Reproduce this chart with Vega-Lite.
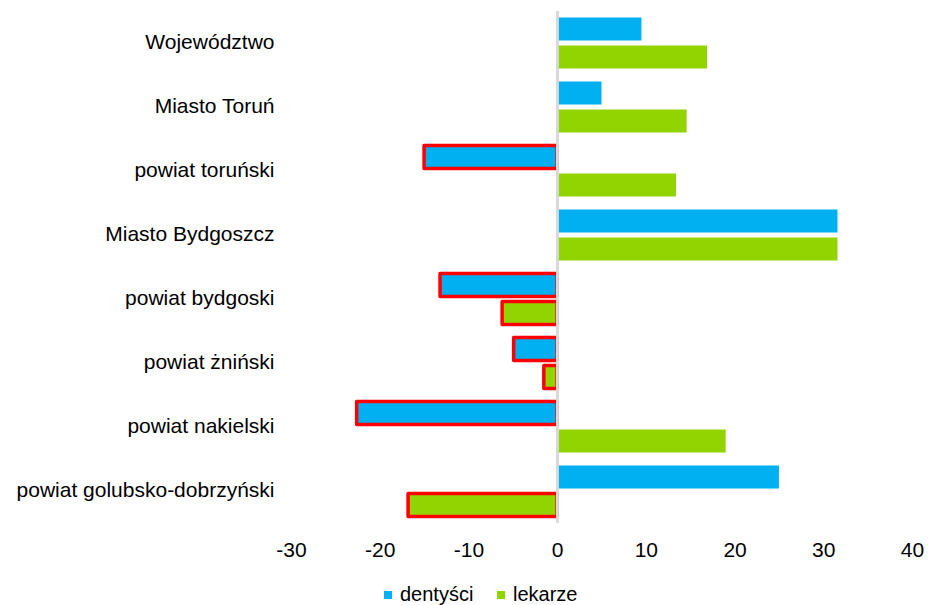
{
  "$schema": "https://vega.github.io/schema/vega-lite/v6.json",
  "autosize": "none",
  "width": 621,
  "height": 512,
  "padding": {"left": 291, "top": 11, "right": 16, "bottom": 82},
  "background": "white",
  "config": {
    "view": {"stroke": null},
    "font": "Liberation Sans",
    "axis": {"labelFont": "Liberation Sans", "labelFontSize": 21, "labelColor": "#000000", "labelLimit": 400},
    "legend": {"labelFont": "Liberation Sans", "labelFontSize": 20, "labelColor": "#000000", "padding": 0}
  },
  "data": {
    "values": [
      {"kategoria": "Województwo", "grupa": "dentyści", "wartosc": 9.5},
      {"kategoria": "Województwo", "grupa": "lekarze", "wartosc": 16.9},
      {"kategoria": "Miasto Toruń", "grupa": "dentyści", "wartosc": 5.0},
      {"kategoria": "Miasto Toruń", "grupa": "lekarze", "wartosc": 14.6},
      {"kategoria": "powiat toruński", "grupa": "dentyści", "wartosc": -15.0},
      {"kategoria": "powiat toruński", "grupa": "lekarze", "wartosc": 13.4},
      {"kategoria": "Miasto Bydgoszcz", "grupa": "dentyści", "wartosc": 31.6},
      {"kategoria": "Miasto Bydgoszcz", "grupa": "lekarze", "wartosc": 31.6},
      {"kategoria": "powiat bydgoski", "grupa": "dentyści", "wartosc": -13.2},
      {"kategoria": "powiat bydgoski", "grupa": "lekarze", "wartosc": -6.2},
      {"kategoria": "powiat żniński", "grupa": "dentyści", "wartosc": -4.9},
      {"kategoria": "powiat żniński", "grupa": "lekarze", "wartosc": -1.5},
      {"kategoria": "powiat nakielski", "grupa": "dentyści", "wartosc": -22.6},
      {"kategoria": "powiat nakielski", "grupa": "lekarze", "wartosc": 19.0},
      {"kategoria": "powiat golubsko-dobrzyński", "grupa": "dentyści", "wartosc": 25.0},
      {"kategoria": "powiat golubsko-dobrzyński", "grupa": "lekarze", "wartosc": -16.8}
    ]
  },
  "layer": [
    {
      "mark": {"type": "bar", "strokeWidth": 3.5, "strokeJoin": "round"},
      "encoding": {
        "y": {
          "field": "kategoria", "type": "nominal", "sort": null,
          "scale": {"paddingInner": 0.2, "paddingOuter": 0.1},
          "axis": {"title": null, "ticks": false, "domain": false, "labelPadding": 17}
        },
        "yOffset": {"field": "grupa", "type": "nominal", "scale": {"paddingInner": 0.18}},
        "x": {
          "field": "wartosc", "type": "quantitative",
          "scale": {"domain": [-30, 40], "nice": false},
          "axis": {"title": null, "values": [-30, -20, -10, 0, 10, 20, 30, 40], "grid": false, "domain": false, "ticks": false, "labelPadding": 16, "labelFlush": false, "labelExpr": "replace(datum.label, '−', '-')"}
        },
        "color": {
          "field": "grupa", "type": "nominal",
          "scale": {"domain": ["dentyści", "lekarze"], "range": ["#00B0F0", "#92D400"]},
          "legend": {"title": null, "orient": "none", "legendX": 87, "legendY": 574, "direction": "horizontal", "symbolType": "square", "symbolSize": 64, "symbolStrokeWidth": 0, "columnPadding": 17, "labelOffset": 2}
        },
        "stroke": {
          "condition": {"test": "datum.wartosc < 0", "value": "#FF0000"},
          "value": null
        }
      }
    },
    {
      "mark": {"type": "rule", "color": "#D9D9D9", "strokeWidth": 2},
      "encoding": {"x": {"datum": 0}}
    }
  ]
}
